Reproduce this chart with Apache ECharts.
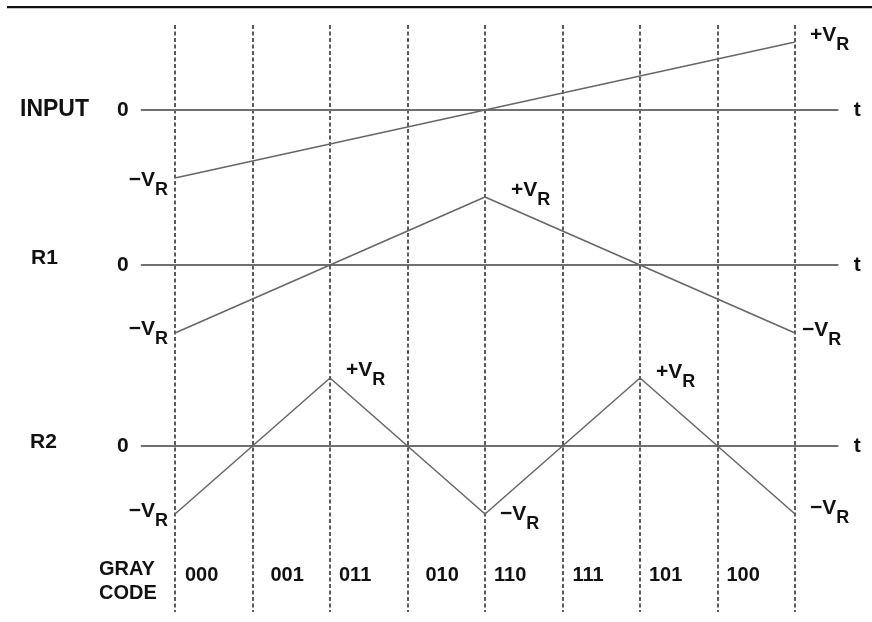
<!DOCTYPE html>
<html>
<head>
<meta charset="utf-8">
<script src="https://cdn.jsdelivr.net/npm/echarts@6/dist/echarts.min.js"></script>
<style>
html,body{margin:0;padding:0;background:#fff;}
#chart{width:872px;height:622px;}
</style>
</head>
<body>
<div id="chart"></div>
<script>
// ---------- data ----------
const inputT = [0, 8];
const inputV = [-1, 1];
const r1T = [0, 4, 8];
const r1V = [-1, 1, -1];
const r2T = [0, 2, 4, 6, 8];
const r2V = [-1, 1, -1, 1, -1];
const grayCodes = ['000', '001', '011', '010', '110', '111', '101', '100'];
const rowNames = ['INPUT', 'R1', 'R2'];

// ---------- layout / style ----------
const FONT = '"Liberation Sans", Arial, Helvetica, sans-serif';
const TXT = '#111';
const SIG = '#666';
const X0 = 175, UNIT = 77.5;          // pixel of t = 0, pixels per interval
const X_MIN = -0.43, X_MAX = 8.55;    // extent of the zero lines
const AMP = 68;                       // pixels per V_R
const zeroY = [110, 265, 446];
const rowTitlePos = [[20, 110, 23], [31, 258.5, 21], [30, 442, 21]];
const DASH_TOP = 25, DASH_BOTTOM = 612;
const GRAY_Y = (DASH_BOTTOM - 575.5) / (DASH_BOTTOM - DASH_TOP);
const grayDist = [10, 18, 9, 18, 9, 10, 9, 9];

const inputLabelStyle = [{pos: 'left', dist: 7, dy: 12.5}, {pos: 'right', dist: 15, dy: 3}];
const r1LabelStyle = [{pos: 'left', dist: 7, dy: 6.5}, {pos: 'right', dist: 26, dy: 3}, {pos: 'right', dist: 7, dy: 7}];
const r2LabelStyle = [{pos: 'left', dist: 7, dy: 7}, {pos: 'right', dist: 16, dy: 2}, {pos: 'right', dist: 15, dy: 10},
                      {pos: 'right', dist: 16, dy: 4}, {pos: 'right', dist: 15, dy: 4}];

const rows = [
  {t: inputT, v: inputV, ls: inputLabelStyle},
  {t: r1T, v: r1V, ls: r1LabelStyle},
  {t: r2T, v: r2V, ls: r2LabelStyle}
];

const rich = {
  v: {fontFamily: FONT, fontWeight: 'bold', fontSize: 21, height: 22, verticalAlign: 'top', color: TXT},
  r: {fontFamily: FONT, fontWeight: 'bold', fontSize: 18, height: 42, verticalAlign: 'top', color: TXT}
};

const gridLeft = X0 + X_MIN * UNIT;
const gridWidth = (X_MAX - X_MIN) * UNIT;

const grids = [], xAxes = [], yAxes = [], series = [];

rows.forEach((row, i) => {
  grids.push({left: gridLeft, width: gridWidth, top: zeroY[i] - AMP, height: 2 * AMP, outerBoundsMode: 'none'});
  xAxes.push({
    gridIndex: i, type: 'value', min: X_MIN, max: X_MAX,
    axisLine: {show: true, onZero: true, lineStyle: {color: '#707070', width: 2}},
    axisTick: {show: false}, axisLabel: {show: false}, splitLine: {show: false},
    name: 't', nameLocation: 'end', nameGap: 16,
    nameTextStyle: {fontFamily: FONT, fontWeight: 'bold', fontSize: 21, color: TXT, verticalAlign: 'middle', padding: [0, 0, 6, 0]}
  });
  yAxes.push({
    gridIndex: i, type: 'value', min: -1, max: 1, interval: 1,
    axisLine: {show: false}, axisTick: {show: false}, splitLine: {show: false},
    axisLabel: {
      show: true, margin: 13, fontFamily: FONT, fontWeight: 'bold', fontSize: 21, color: TXT,
      padding: [6, 0, 0, 0],
      formatter: v => (v === 0 ? '0' : '')
    }
  });
  series.push({
    type: 'line', xAxisIndex: i, yAxisIndex: i,
    symbol: 'circle', symbolSize: 0, showSymbol: true, animation: false,
    lineStyle: {color: SIG, width: 1.5}, itemStyle: {color: SIG, opacity: 1},
    label: {
      show: true, rich: rich, opacity: 1,
      formatter: p => (p.value[1] > 0 ? '{v|+V}{r|R}' : '{v|\u2212V}{r|R}')
    },
    data: row.t.map((t, k) => ({
      value: [t, row.v[k]],
      label: {position: row.ls[k].pos, distance: row.ls[k].dist, offset: [0, row.ls[k].dy]}
    }))
  });
});

// full-height grid for the dashed interval markers and Gray code row
grids.push({left: X0, width: 8 * UNIT, top: DASH_TOP, height: DASH_BOTTOM - DASH_TOP, outerBoundsMode: 'none'});
xAxes.push({
  gridIndex: 3, type: 'value', min: 0, max: grayCodes.length, interval: 1,
  axisLine: {show: false}, axisTick: {show: false}, axisLabel: {show: false},
  splitLine: {show: true, showMinLine: true, showMaxLine: true, lineStyle: {type: [4, 2.5], color: '#333', width: 1.6}}
});
yAxes.push({gridIndex: 3, type: 'value', min: 0, max: 1, show: false});
series.push({
  type: 'scatter', xAxisIndex: 3, yAxisIndex: 3, symbolSize: 0, animation: false, clip: false,
  itemStyle: {opacity: 1, color: TXT},
  label: {
    show: true, position: 'right', opacity: 1,
    rich: {g: {fontFamily: FONT, fontWeight: 'bold', fontSize: 20, color: TXT}},
    formatter: p => '{g|' + p.name + '}'
  },
  data: grayCodes.map((c, i) => ({name: c, value: [i, GRAY_Y], label: {distance: grayDist[i]}}))
});

const titles = rowNames.map((n, i) => ({
  text: n, left: rowTitlePos[i][0], top: rowTitlePos[i][1] - rowTitlePos[i][2] / 2, padding: 0,
  textStyle: {fontFamily: FONT, fontWeight: 'bold', fontSize: rowTitlePos[i][2], lineHeight: rowTitlePos[i][2], color: TXT}
}));
titles.push({
  text: 'GRAY\nCODE', left: 99, top: 557, padding: 0,
  textStyle: {fontFamily: FONT, fontWeight: 'bold', fontSize: 20, lineHeight: 24, color: TXT}
});

const chart = echarts.init(document.getElementById('chart'), null, {renderer: 'canvas'});
chart.setOption({
  backgroundColor: '#fff',
  animation: false,
  title: titles,
  grid: grids,
  xAxis: xAxes,
  yAxis: yAxes,
  series: series,
  graphic: [{
    type: 'rect', left: 7, top: 6, silent: true,
    shape: {width: 865, height: 2.2}, style: {fill: '#111'}
  }]
});
</script>
</body>
</html>
